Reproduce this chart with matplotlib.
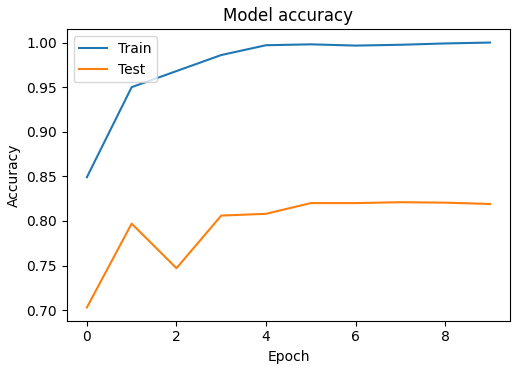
import matplotlib
matplotlib.use("Agg")
import matplotlib.pyplot as plt

epochs = list(range(10))
train_acc = [0.849, 0.950, 0.968, 0.986, 0.997, 0.998, 0.9966, 0.9975, 0.999, 1.000]
test_acc = [0.703, 0.797, 0.747, 0.806, 0.808, 0.820, 0.820, 0.821, 0.8205, 0.819]

fig, ax = plt.subplots(figsize=(5.27, 3.71), dpi=100)
fig.subplots_adjust(left=0.1266, right=0.968, top=0.921, bottom=0.1356)

ax.plot(epochs, train_acc, label='Train')
ax.plot(epochs, test_acc, label='Test')
ax.set_title('Model accuracy')
ax.set_ylabel('Accuracy')
ax.set_xlabel('Epoch')
ax.legend(loc='upper left')

plt.savefig('out.png')
